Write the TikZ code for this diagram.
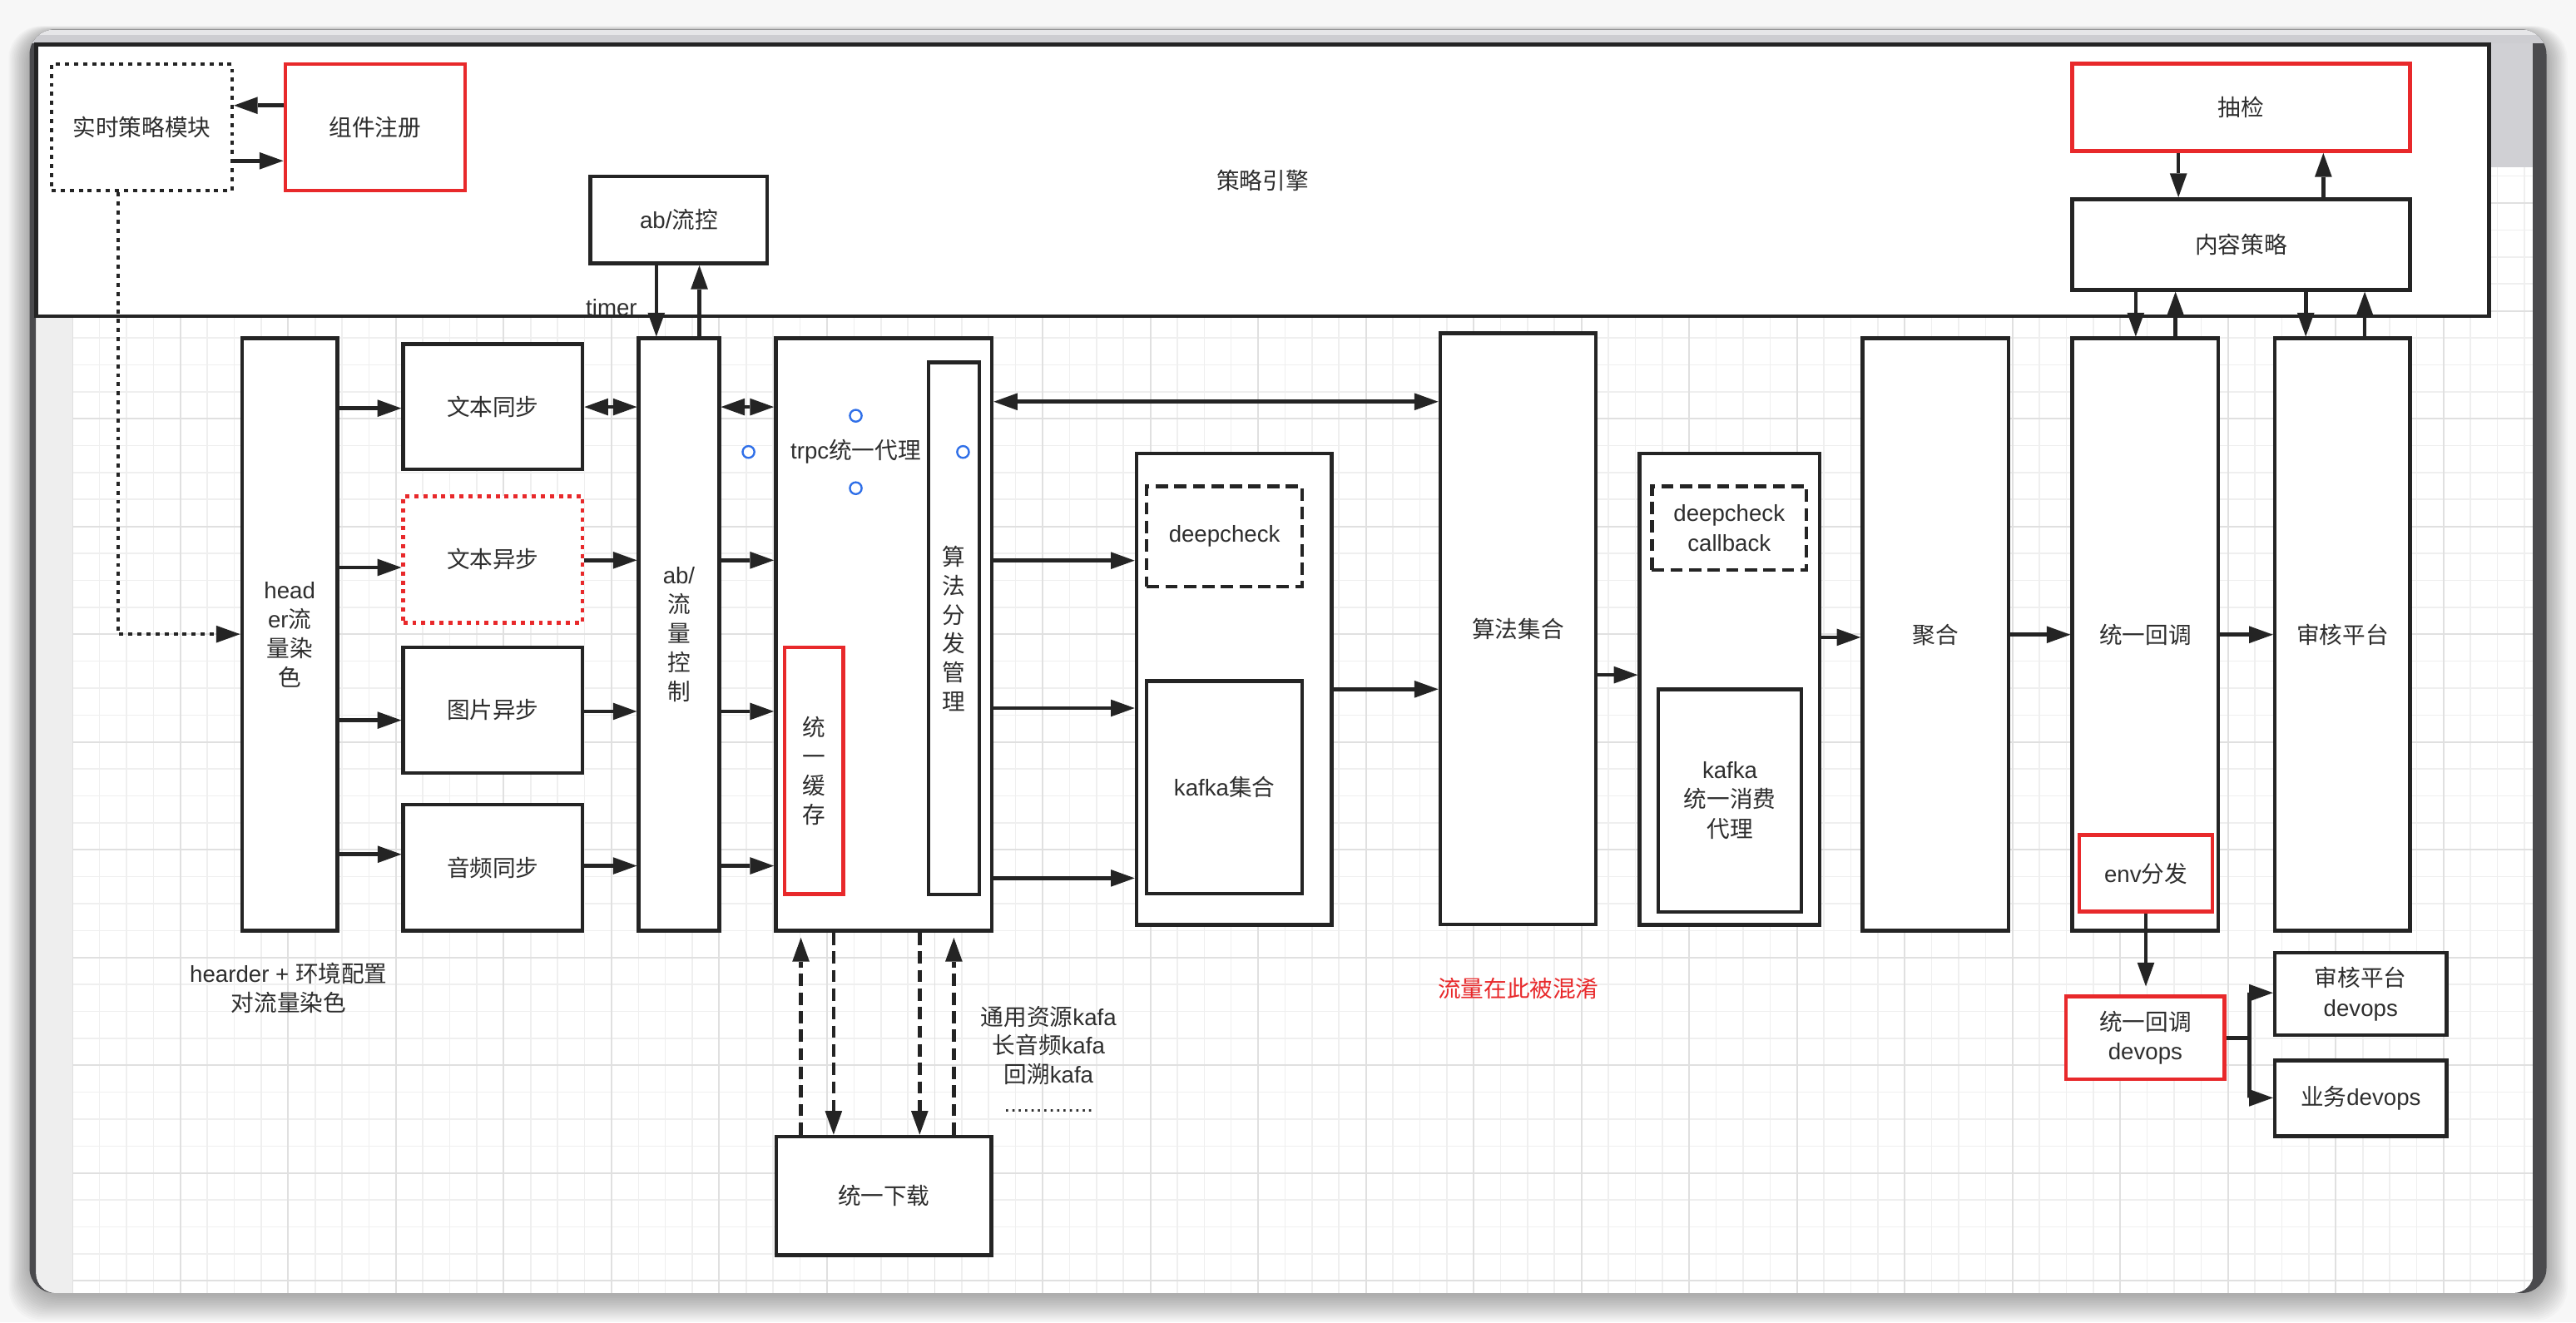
\documentclass[tikz,border=0pt]{standalone}
\usepackage{fontspec}
\setmainfont{Liberation Sans}
\newfontfamily\cjkfont{Noto Sans CJK SC}
\newcommand{\zh}[1]{{\cjkfont #1}}
\usetikzlibrary{arrows.meta}

\definecolor{ink}{HTML}{242424}
\definecolor{txt}{HTML}{2E2E2E}
\definecolor{alert}{HTML}{E8292B}
\definecolor{mark}{HTML}{2F6FE8}
\definecolor{frame}{HTML}{4A4A4D}
\definecolor{pagebg}{HTML}{F7F7F7}
\definecolor{ruler}{HTML}{EEEEEE}
\definecolor{barA}{HTML}{E6E6E8}
\definecolor{barB}{HTML}{CDCDD1}
\definecolor{panel}{HTML}{D0D0D4}
\definecolor{gridminor}{HTML}{EFEFEF}
\definecolor{gridmajor}{HTML}{E0E0E0}

\begin{document}
\begin{tikzpicture}[x=1pt,y=-1pt,
  every node/.style={text=txt, inner sep=0pt, font=\fontsize{14}{18}\selectfont},
  vtext/.style={font=\fontsize{14}{17.7}\selectfont},
  box/.style={draw=ink, line width=2.3pt, fill=white, rectangle, align=center},
  redbox/.style={box, draw=alert},
  dotbox/.style={box, dash pattern=on 2.5pt off 3pt},
  reddotbox/.style={box, draw=alert, dash pattern=on 2.5pt off 3pt},
  dashbox/.style={box, dash pattern=on 7.5pt off 3.8pt},
  arr/.style={draw=ink, line width=2.3pt, -{Triangle[length=14.5pt,width=10.5pt,line width=0pt]}},
  arrboth/.style={draw=ink, line width=2.3pt, {Triangle[length=14.5pt,width=10.5pt,line width=0pt]}-{Triangle[length=14.5pt,width=10.5pt,line width=0pt]}},
  dasharr/.style={arr, dash pattern=on 7.5pt off 3.8pt},
  dotarr/.style={arr, dash pattern=on 2.5pt off 3pt},
  port/.style={draw=mark, line width=1.2pt, fill=white}
]
\useasboundingbox (0,0) rectangle (1568,805);

% page and window
\fill[pagebg] (0,0) rectangle (1568,805);
\foreach \s in {1,...,16} {
  \fill[black, opacity=0.018, rounded corners=20pt] ({18-0.8*\s},{19-0.2*\s}) rectangle ({1550+0.8*\s},{788+\s});
}
\fill[frame, rounded corners=15pt] (18,18) rectangle (1550,787);

% drawing canvas with grid
\begin{scope}
  \clip[rounded corners=12pt] (22,18) rectangle (1542,787);
  \fill[white] (22,18) rectangle (1542,787);
  \foreach \i in {0,...,91} {
    \draw[gridminor, line width=0.8pt] ({44.2+16.4*\i},26) -- ({44.2+16.4*\i},787);
  }
  \foreach \i in {0,...,45} {
    \draw[gridminor, line width=0.8pt] (44.2,{41.6+16.4*\i}) -- (1542,{41.6+16.4*\i});
  }
  \foreach \i in {0,...,22} {
    \draw[gridmajor, line width=1pt] ({44.2+65.6*\i},26) -- ({44.2+65.6*\i},787);
  }
  \foreach \i in {0,...,11} {
    \draw[gridmajor, line width=1pt] (44.2,{58+65.6*\i}) -- (1542,{58+65.6*\i});
  }
  \fill[ruler] (22,26) rectangle (44.2,787);
  \fill[panel] (1514,26) rectangle (1542,102);
\end{scope}
\begin{scope}
  \clip[rounded corners=15pt] (18,18) rectangle (1550,787);
  \fill[barA] (18,18) rectangle (1550,21.5);
  \fill[barB] (18,21.5) rectangle (1550,26.5);
\end{scope}

% strategy engine frame and its members
\node[box, minimum width=1493pt, minimum height=165.5pt] (eng) at (768.5,109.75) {\zh{策略引擎}};
\node[dotbox, minimum width=109.8pt, minimum height=77pt] (rt) at (86.3,77.5) {\zh{实时策略模块}};
\node[redbox, minimum width=109.4pt, minimum height=77pt] (reg) at (228.3,77.5) {\zh{组件注册}};
\node[box, minimum width=107.7pt, minimum height=53pt] (abfc) at (413.2,133.9) {ab/\zh{流控}};
\node[redbox, minimum width=205.6pt, minimum height=53.2pt] (cj) at (1364.1,65.4) {\zh{抽检}};
\node[box, minimum width=205.6pt, minimum height=55.2pt] (nr) at (1364.1,148.8) {\zh{内容策略}};
\node[anchor=base] (timer) at (372.2,192) {timer};

% ingress column
\node[box, vtext, minimum width=58.1pt, minimum height=360.6pt] (hdr) at (176.35,386.3) {head\\er\zh{流}\\\zh{量染}\\\zh{色}};
\node[box, minimum width=109.1pt, minimum height=76.4pt] (wt1) at (300,247.5) {\zh{文本同步}};
\node[reddotbox, minimum width=109.1pt, minimum height=77pt] (wt2) at (300,340.5) {\zh{文本异步}};
\node[box, minimum width=109.1pt, minimum height=76.5pt] (img) at (300,432.25) {\zh{图片异步}};
\node[box, minimum width=109pt, minimum height=76.9pt] (aud) at (300,528.15) {\zh{音频同步}};
\node[box, vtext, minimum width=48.9pt, minimum height=360.6pt] (ab) at (413.25,386.3) {ab/\\\zh{流}\\\zh{量}\\\zh{控}\\\zh{制}};

% trpc proxy
\node[box, minimum width=131.5pt, minimum height=360.6pt] (trpc) at (537.95,386.3) {};
\node[box, vtext, minimum width=30.7pt, minimum height=323.8pt] (alg) at (580.65,382.6) {\zh{算}\\\zh{法}\\\zh{分}\\\zh{发}\\\zh{管}\\\zh{理}};
\node[redbox, vtext, minimum width=35.8pt, minimum height=150.3pt] (cache) at (495.5,469.15) {\zh{统}\\\zh{一}\\\zh{缓}\\\zh{存}};
\node[minimum width=130.2pt, minimum height=43.7pt] (proxy) at (520.9,275.1) {trpc\zh{统一代理}};
\foreach \a in {north,south,east,west} {
  \draw[port] (proxy.\a) circle (3.6pt);
}

% kafka and algorithms
\node[box, minimum width=118.9pt, minimum height=287pt] (kafo) at (751.25,419.5) {};
\node[dashbox, minimum width=94.6pt, minimum height=61pt] (dc) at (745.3,326.5) {deepcheck};
\node[box, minimum width=94.6pt, minimum height=129.4pt] (kfk) at (745.3,479.3) {kafka\zh{集合}};
\node[box, minimum width=94.8pt, minimum height=359.9pt] (algset) at (924,382.75) {\zh{算法集合}};
\node[box, minimum width=109.6pt, minimum height=287pt] (cbo) at (1052.8,419.5) {};
\node[dashbox, minimum width=94.1pt, minimum height=51pt] (dcc) at (1052.55,321.5) {deepcheck\\callback};
\node[box, minimum width=87.1pt, minimum height=135.5pt] (kcons) at (1052.95,487.25) {kafka\\\zh{统一消费}\\\zh{代理}};

% aggregation and callbacks
\node[box, minimum width=88.8pt, minimum height=360.5pt] (agg) at (1178.1,386.25) {\zh{聚合}};
\node[box, minimum width=88.9pt, minimum height=360.5pt] (cb) at (1305.85,386.25) {\zh{统一回调}};
\node[redbox, minimum width=81.1pt, minimum height=46.6pt] (env) at (1306.15,531.6) {env\zh{分发}};
\node[box, minimum width=82.3pt, minimum height=360.5pt] (aud2) at (1425.85,386.25) {\zh{审核平台}};
\node[redbox, minimum width=96.5pt, minimum height=50.4pt] (cbdev) at (1305.85,631.7) {\zh{统一回调}\\devops};
\node[box, minimum width=104.5pt, minimum height=50pt] (auddev) at (1436.95,605) {\zh{审核平台}\\devops};
\node[box, minimum width=104.5pt, minimum height=45.9pt] (bizdev) at (1436.95,668.55) {\zh{业务}devops};
\node[box, minimum width=131.1pt, minimum height=72.2pt] (dl) at (538,727.9) {\zh{统一下载}};

% free labels
\node[align=center, font=\fontsize{14}{17.8}\selectfont] (dye) at (175.7,601.4) {hearder + \zh{环境配置}\\\zh{对流量染色}};
\node[align=center, font=\fontsize{14}{17.6}\selectfont] (topics) at (638.3,644.6) {\zh{通用资源}kafa\\\zh{长音频}kafa\\\zh{回溯}kafa\\..............};
\node[text=alert] (mixed) at (924.2,601.6) {\zh{流量在此被混淆}};

% connector levels
\path (0,64.2) coordinate (hRegA) (0,97.9) coordinate (hRegB)
  (0,248.5) coordinate (hH1) (0,345.4) coordinate (hH2) (0,438.4) coordinate (hH3) (0,520) coordinate (hH4)
  (0,247.7) coordinate (hR1) (0,341) coordinate (hR2) (0,433) coordinate (hR3) (0,527) coordinate (hR4)
  (0,244.5) coordinate (hAlg) (0,341.2) coordinate (hK1) (0,431) coordinate (hK2) (0,534.5) coordinate (hK3)
  (0,419.5) coordinate (hK4) (0,410.8) coordinate (hCb) (0,387.9) coordinate (hAgg) (0,386.3) coordinate (hMid)
  (0,386) coordinate (hDot) (0,604.3) coordinate (hDev1) (0,668.2) coordinate (hDev2);
\path (72,0) coordinate (vDot) (399.5,0) coordinate (vAbD) (425.7,0) coordinate (vAbU)
  (1326,0) coordinate (vCjD) (1414.2,0) coordinate (vCjU) (1300,0) coordinate (vCbD) (1324.2,0) coordinate (vCbU)
  (1403.5,0) coordinate (vAuD) (1439.4,0) coordinate (vAuU)
  (487.5,0) coordinate (vDl1) (507.4,0) coordinate (vDl2) (559.8,0) coordinate (vDl3) (580.6,0) coordinate (vDl4)
  (1369.3,0) coordinate (vFork);

% strategy engine links
\draw[arr] (reg.west |- hRegA) -- (rt.east |- hRegA);
\draw[arr] (rt.east |- hRegB) -- (reg.west |- hRegB);
\draw[dotarr] (rt.south -| vDot) |- (hdr.west |- hDot);
\draw[arr] (abfc.south -| vAbD) -- (ab.north -| vAbD);
\draw[arr] (ab.north -| vAbU) -- (abfc.south -| vAbU);
\draw[arr] (cj.south -| vCjD) -- (nr.north -| vCjD);
\draw[arr] (nr.north -| vCjU) -- (cj.south -| vCjU);
\draw[arr] (nr.south -| vCbD) -- (cb.north -| vCbD);
\draw[arr] (cb.north -| vCbU) -- (nr.south -| vCbU);
\draw[arr] (nr.south -| vAuD) -- (aud2.north -| vAuD);
\draw[arr] (aud2.north -| vAuU) -- (nr.south -| vAuU);

% main flow
\draw[arr] (hdr.east |- hH1) -- (wt1.west |- hH1);
\draw[arr] (hdr.east |- hH2) -- (wt2.west |- hH2);
\draw[arr] (hdr.east |- hH3) -- (img.west |- hH3);
\draw[arr] (hdr.east |- hH4) -- (aud.west |- hH4);
\draw[arrboth] (wt1.east |- hR1) -- (ab.west |- hR1);
\draw[arr] (wt2.east |- hR2) -- (ab.west |- hR2);
\draw[arr] (img.east |- hR3) -- (ab.west |- hR3);
\draw[arr] (aud.east |- hR4) -- (ab.west |- hR4);
\draw[arrboth] (ab.east |- hR1) -- (trpc.west |- hR1);
\draw[arr] (ab.east |- hR2) -- (trpc.west |- hR2);
\draw[arr] (ab.east |- hR3) -- (trpc.west |- hR3);
\draw[arr] (ab.east |- hR4) -- (trpc.west |- hR4);
\draw[arrboth] (trpc.east |- hAlg) -- (algset.west |- hAlg);
\draw[arr] (trpc.east |- hK1) -- (kafo.west |- hK1);
\draw[arr] (trpc.east |- hK2) -- (kafo.west |- hK2);
\draw[arr] (trpc.east |- hK3) -- (kafo.west |- hK3);
\draw[arr] (kafo.east |- hK4) -- (algset.west |- hK4);
\draw[arr] (algset.east |- hCb) -- (cbo.west |- hCb);
\draw[arr] (cbo.east |- hAgg) -- (agg.west |- hAgg);
\draw[arr] (agg.east |- hMid) -- (cb.west |- hMid);
\draw[arr] (cb.east |- hMid) -- (aud2.west |- hMid);

% download links
\draw[dasharr, shorten >=3pt] (dl.north -| vDl1) -- (trpc.south -| vDl1);
\draw[dasharr] (trpc.south -| vDl2) -- (dl.north -| vDl2);
\draw[dasharr] (trpc.south -| vDl3) -- (dl.north -| vDl3);
\draw[dasharr, shorten >=3pt] (dl.north -| vDl4) -- (trpc.south -| vDl4);

% devops dispatch
\draw[arr, shorten >=5pt] (env.south) -- (cbdev.north -| env.south);
\draw[arr] (cbdev.east) -| (vFork |- hDev1) -- (auddev.west |- hDev1);
\draw[arr] (cbdev.east) -| (vFork |- hDev2) -- (bizdev.west |- hDev2);
\end{tikzpicture}
\end{document}
